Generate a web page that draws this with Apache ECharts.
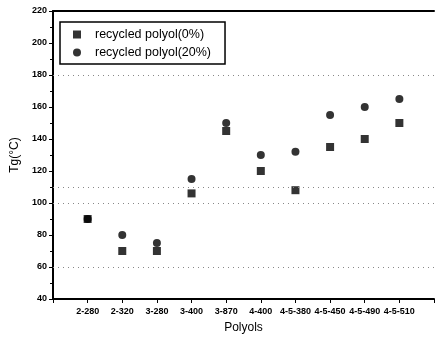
<!DOCTYPE html>
<html>
<head>
<meta charset="utf-8">
<script src="https://cdn.jsdelivr.net/npm/echarts@6/dist/echarts.min.js"></script>
<style>
  html, body { margin: 0; padding: 0; background: #fff; }
  #main { width: 437px; height: 339px; }
</style>
</head>
<body>
<div id="main"></div>
<script>
// polyol categories
var polyols = ['2-280', '2-320', '3-280', '3-400', '3-870', '4-400', '4-5-380', '4-5-450', '4-5-490', '4-5-510'];
// Tg values (°C)
var tg0 = [90, 70, 70, 106, 145, 120, 108, 135, 140, 150];
var tg20 = [90, 80, 75, 115, 150, 130, 132, 155, 160, 165];
// faint dotted lines in the scanned figure
var dotLines = [60, 100, 110, 180];

function pairs(vals) {
    return vals.map(function (v, i) { return [i + 1, v]; });
}

var myChart = echarts.init(document.getElementById('main'));
var option;

var axisFont = { color: '#000', fontSize: 9, fontWeight: 'bold', fontFamily: 'Liberation Sans' };

option = {
    animation: false,
    grid: {
        left: 53,
        top: 11,
        width: 386,
        height: 288
    },
    legend: {
        left: 60,
        top: 22,
        orient: 'vertical',
        borderColor: '#000',
        borderWidth: 1.5,
        padding: [6, 14, 5, 13],
        itemWidth: 8,
        itemHeight: 8,
        itemGap: 5,
        textStyle: {
            color: '#000',
            fontSize: 12.5,
            fontFamily: 'Liberation Sans',
            padding: [0, 0, 0, 9]
        },
        data: [
            { name: 'recycled polyol(0%)', icon: 'rect' },
            { name: 'recycled polyol(20%)', icon: 'circle' }
        ]
    },
    xAxis: [
        {
            type: 'value',
            min: 0,
            max: 11,
            interval: 1,
            name: 'Polyols',
            nameLocation: 'middle',
            nameGap: 23,
            nameTextStyle: { color: '#000', fontSize: 12, fontFamily: 'Liberation Sans' },
            axisLine: { lineStyle: { color: '#000', width: 2 } },
            axisTick: { show: true, length: 4, lineStyle: { color: '#000' } },
            axisLabel: Object.assign({
                margin: 8,
                formatter: function (v) { return polyols[v - 1] || ''; }
            }, axisFont),
            splitLine: { show: false }
        },
        {
            type: 'value',
            position: 'top',
            min: 0,
            max: 11,
            axisLine: { show: true, lineStyle: { color: '#000', width: 2 } },
            axisTick: { show: false },
            axisLabel: { show: false },
            splitLine: { show: false }
        }
    ],
    yAxis: {
        type: 'value',
        min: 40,
        max: 220,
        interval: 20,
        name: 'Tg(°C)',
        nameLocation: 'middle',
        nameGap: 32,
        nameTextStyle: { color: '#000', fontSize: 12, fontFamily: 'Liberation Sans' },
        axisLine: { show: true, lineStyle: { color: '#000', width: 2 } },
        axisTick: { show: true, length: 4, lineStyle: { color: '#000' } },
        minorTick: { show: true, splitNumber: 2, length: 3, lineStyle: { color: '#000' } },
        axisLabel: Object.assign({ margin: 6 }, axisFont),
        splitLine: { show: false }
    },
    series: [
        {
            name: 'recycled polyol(20%)',
            type: 'scatter',
            symbol: 'circle',
            symbolSize: 8,
            itemStyle: { color: '#000' },
            data: pairs(tg20),
            z: 3,
            markLine: {
                silent: true,
                symbol: 'none',
                label: { show: false },
                lineStyle: { color: '#888', type: [1, 4], width: 1 },
                data: dotLines.map(function (v) { return { yAxis: v }; })
            }
        },
        {
            name: 'recycled polyol(0%)',
            type: 'scatter',
            symbol: 'rect',
            symbolSize: 8,
            itemStyle: { color: '#000' },
            data: pairs(tg0),
            z: 4
        }
    ]
};

myChart.setOption(option);
window.addEventListener('resize', function () { myChart.resize(); });
</script>
</body>
</html>
